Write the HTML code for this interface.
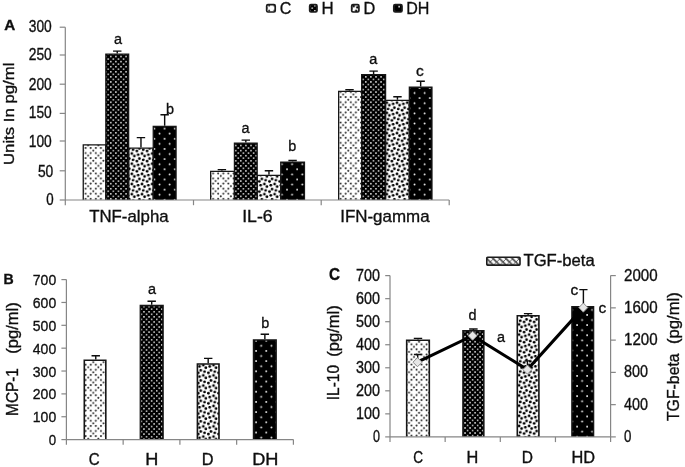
<!DOCTYPE html>
<html lang="en"><head><meta charset="utf-8"><title>Figure</title>
<style>html,body{margin:0;padding:0;background:#fff;}svg{display:block;}</style></head><body>
<svg width="685" height="467" viewBox="0 0 685 467" font-family='"Liberation Sans", Arial, sans-serif'>
<rect width="685" height="467" fill="#fff"/>
<defs>
<filter id="soft" x="0" y="0" width="685" height="467" filterUnits="userSpaceOnUse"><feGaussianBlur stdDeviation="0.4"/></filter>
<pattern id="pCA" patternUnits="userSpaceOnUse" width="10.2" height="10.17" patternTransform="translate(84.60 147.00)"><rect width="10.2" height="10.17" fill="#fff"/><circle cx="1.000" cy="1.000" r="1.02" fill="#2c2c2c"/><circle cx="6.100" cy="1.000" r="1.02" fill="#2c2c2c"/><circle cx="1.000" cy="6.085" r="1.02" fill="#2c2c2c"/><circle cx="6.100" cy="6.085" r="1.02" fill="#2c2c2c"/><circle cx="8.650" cy="3.542" r="1.02" fill="#2c2c2c"/><circle cx="3.550" cy="8.627" r="1.02" fill="#2c2c2c"/></pattern>
<pattern id="pHA" patternUnits="userSpaceOnUse" width="5.1" height="5.085" patternTransform="translate(110.00 55.70)"><rect width="5.1" height="5.085" fill="#000"/><circle cx="0.800" cy="0.800" r="0.82" fill="#ececec"/><circle cx="3.350" cy="3.343" r="0.82" fill="#ececec"/></pattern>
<pattern id="pDA" patternUnits="userSpaceOnUse" width="10.2" height="10.17" patternTransform="translate(131.80 163.70)"><rect width="10.2" height="10.17" fill="#fff"/><circle cx="0.000" cy="0.000" r="1.38" fill="#000"/><circle cx="0.000" cy="10.170" r="1.38" fill="#000"/><circle cx="10.200" cy="0.000" r="1.38" fill="#000"/><circle cx="10.200" cy="10.170" r="1.38" fill="#000"/><circle cx="6.375" cy="1.271" r="1.38" fill="#000"/><circle cx="6.375" cy="11.441" r="1.38" fill="#000"/><circle cx="2.550" cy="2.542" r="1.38" fill="#000"/><circle cx="7.650" cy="5.085" r="1.38" fill="#000"/><circle cx="1.275" cy="6.356" r="1.38" fill="#000"/><circle cx="11.475" cy="6.356" r="1.38" fill="#000"/><circle cx="5.100" cy="7.627" r="1.38" fill="#000"/></pattern>
<pattern id="pDHA" patternUnits="userSpaceOnUse" width="10.2" height="10.17" patternTransform="translate(153.40 127.70)"><rect width="10.2" height="10.17" fill="#000"/><circle cx="1.000" cy="1.000" r="0.92" fill="#fafafa"/><circle cx="6.100" cy="6.085" r="0.92" fill="#fafafa"/></pattern>
<pattern id="pCB" patternUnits="userSpaceOnUse" width="10.2" height="10.2" patternTransform="translate(89.73 363.73)"><rect width="10.2" height="10.2" fill="#fff"/><circle cx="1.000" cy="1.000" r="1.02" fill="#2c2c2c"/><circle cx="6.100" cy="1.000" r="1.02" fill="#2c2c2c"/><circle cx="1.000" cy="6.100" r="1.02" fill="#2c2c2c"/><circle cx="6.100" cy="6.100" r="1.02" fill="#2c2c2c"/><circle cx="8.650" cy="3.550" r="1.02" fill="#2c2c2c"/><circle cx="3.550" cy="8.650" r="1.02" fill="#2c2c2c"/></pattern>
<pattern id="pHB" patternUnits="userSpaceOnUse" width="5.1" height="5.1" patternTransform="translate(143.17 305.83)"><rect width="5.1" height="5.1" fill="#000"/><circle cx="0.800" cy="0.800" r="0.82" fill="#ececec"/><circle cx="3.350" cy="3.350" r="0.82" fill="#ececec"/></pattern>
<pattern id="pDB" patternUnits="userSpaceOnUse" width="10.2" height="10.2" patternTransform="translate(193.11 365.20)"><rect width="10.2" height="10.2" fill="#fff"/><circle cx="0.000" cy="0.000" r="1.38" fill="#000"/><circle cx="0.000" cy="10.200" r="1.38" fill="#000"/><circle cx="10.200" cy="0.000" r="1.38" fill="#000"/><circle cx="10.200" cy="10.200" r="1.38" fill="#000"/><circle cx="6.375" cy="1.275" r="1.38" fill="#000"/><circle cx="6.375" cy="11.475" r="1.38" fill="#000"/><circle cx="2.550" cy="2.550" r="1.38" fill="#000"/><circle cx="7.650" cy="5.100" r="1.38" fill="#000"/><circle cx="1.275" cy="6.375" r="1.38" fill="#000"/><circle cx="11.475" cy="6.375" r="1.38" fill="#000"/><circle cx="5.100" cy="7.650" r="1.38" fill="#000"/></pattern>
<pattern id="pDHB" patternUnits="userSpaceOnUse" width="10.2" height="10.2" patternTransform="translate(255.10 339.80)"><rect width="10.2" height="10.2" fill="#000"/><circle cx="1.000" cy="1.000" r="0.92" fill="#fafafa"/><circle cx="6.100" cy="6.100" r="0.92" fill="#fafafa"/></pattern>
<pattern id="pCC" patternUnits="userSpaceOnUse" width="10.05" height="10.15" patternTransform="translate(410.50 378.84)"><rect width="10.05" height="10.15" fill="#fff"/><circle cx="1.000" cy="1.000" r="1.02" fill="#2c2c2c"/><circle cx="6.025" cy="1.000" r="1.02" fill="#2c2c2c"/><circle cx="1.000" cy="6.075" r="1.02" fill="#2c2c2c"/><circle cx="6.025" cy="6.075" r="1.02" fill="#2c2c2c"/><circle cx="8.538" cy="3.538" r="1.02" fill="#2c2c2c"/><circle cx="3.513" cy="8.613" r="1.02" fill="#2c2c2c"/></pattern>
<pattern id="pHC" patternUnits="userSpaceOnUse" width="5.025" height="5.075" patternTransform="translate(464.25 376.40)"><rect width="5.025" height="5.075" fill="#000"/><circle cx="0.800" cy="0.800" r="0.82" fill="#ececec"/><circle cx="3.312" cy="3.338" r="0.82" fill="#ececec"/></pattern>
<pattern id="pDC" patternUnits="userSpaceOnUse" width="10.05" height="10.15" patternTransform="translate(529.10 405.69)"><rect width="10.05" height="10.15" fill="#fff"/><circle cx="0.000" cy="0.000" r="1.38" fill="#000"/><circle cx="0.000" cy="10.150" r="1.38" fill="#000"/><circle cx="10.050" cy="0.000" r="1.38" fill="#000"/><circle cx="10.050" cy="10.150" r="1.38" fill="#000"/><circle cx="6.281" cy="1.269" r="1.38" fill="#000"/><circle cx="6.281" cy="11.419" r="1.38" fill="#000"/><circle cx="2.513" cy="2.538" r="1.38" fill="#000"/><circle cx="7.538" cy="5.075" r="1.38" fill="#000"/><circle cx="1.256" cy="6.344" r="1.38" fill="#000"/><circle cx="11.306" cy="6.344" r="1.38" fill="#000"/><circle cx="5.025" cy="7.613" r="1.38" fill="#000"/></pattern>
<pattern id="pDHC" patternUnits="userSpaceOnUse" width="10.05" height="10.15" patternTransform="translate(576.09 405.39)"><rect width="10.05" height="10.15" fill="#000"/><circle cx="1.000" cy="1.000" r="0.92" fill="#fafafa"/><circle cx="6.025" cy="6.075" r="0.92" fill="#fafafa"/></pattern>
<pattern id="pT" patternUnits="userSpaceOnUse" width="6.4" height="6.4" patternTransform="translate(488.6 257.2)"><rect width="6.4" height="6.4" fill="#b8b8b8"/><path d="M-1 -1L7.4 7.4" stroke="#fff" stroke-width="1.9"/><path d="M2.2 -1L7.4 4.2M-1 2.2L4.2 7.4" stroke="#333" stroke-width="1.0"/><path d="M-1 7.4L7.4 -1" stroke="#555" stroke-width="0.9"/></pattern>
</defs>
<g filter="url(#soft)">
<g id="panelA">
<text x="28.80" y="31.90" font-size="15.6" textLength="23.00" lengthAdjust="spacingAndGlyphs" fill="#111" stroke="#111" stroke-width="0.35">300</text>
<text x="28.80" y="60.40" font-size="15.6" textLength="23.00" lengthAdjust="spacingAndGlyphs" fill="#111" stroke="#111" stroke-width="0.35">250</text>
<text x="28.80" y="89.70" font-size="15.6" textLength="23.00" lengthAdjust="spacingAndGlyphs" fill="#111" stroke="#111" stroke-width="0.35">200</text>
<text x="28.80" y="118.20" font-size="15.6" textLength="23.00" lengthAdjust="spacingAndGlyphs" fill="#111" stroke="#111" stroke-width="0.35">150</text>
<text x="28.80" y="147.00" font-size="15.6" textLength="23.00" lengthAdjust="spacingAndGlyphs" fill="#111" stroke="#111" stroke-width="0.35">100</text>
<text x="37.90" y="176.70" font-size="15.6" textLength="15.40" lengthAdjust="spacingAndGlyphs" fill="#111" stroke="#111" stroke-width="0.35">50</text>
<text x="46.30" y="205.20" font-size="15.6" textLength="7.40" lengthAdjust="spacingAndGlyphs" fill="#111" stroke="#111" stroke-width="0.35">0</text>
<path d="M113.05 51.10H121.45M117.25 51.10V53.50" stroke="#0a0a0a" stroke-width="1.4" fill="none"/>
<path d="M136.75 137.60H145.15M140.95 137.60V147.50" stroke="#0a0a0a" stroke-width="1.4" fill="none"/>
<path d="M160.45 114.70H168.85M164.65 114.70V125.80" stroke="#0a0a0a" stroke-width="1.4" fill="none"/>
<rect x="83.25" y="144.85" width="22.60" height="55.15" fill="url(#pCA)"/>
<path d="M83.25 200.00V144.85H105.85V200.00" fill="none" stroke="#141414" stroke-width="1.3"/>
<rect x="128.65" y="148.15" width="24.60" height="51.85" fill="url(#pDA)"/>
<path d="M128.65 200.00V148.15H153.25V200.00" fill="none" stroke="#141414" stroke-width="1.3"/>
<rect x="105.85" y="54.15" width="22.80" height="145.85" fill="url(#pHA)"/>
<path d="M105.85 200.00V54.15H128.65V200.00" fill="none" stroke="#141414" stroke-width="1.3"/>
<rect x="153.25" y="126.45" width="22.80" height="73.55" fill="url(#pDHA)"/>
<path d="M153.25 200.00V126.45H176.05V200.00" fill="none" stroke="#141414" stroke-width="1.3"/>
<path d="M217.70 169.60H226.10M221.90 169.60V170.70" stroke="#0a0a0a" stroke-width="1.4" fill="none"/>
<path d="M241.60 140.10H250.00M245.80 140.10V142.60" stroke="#0a0a0a" stroke-width="1.4" fill="none"/>
<path d="M264.75 170.70H273.15M268.95 170.70V174.70" stroke="#0a0a0a" stroke-width="1.4" fill="none"/>
<path d="M288.40 160.50H296.80M292.60 160.50V161.40" stroke="#0a0a0a" stroke-width="1.4" fill="none"/>
<rect x="210.65" y="171.35" width="23.80" height="28.65" fill="url(#pCA)"/>
<path d="M210.65 200.00V171.35H234.45V200.00" fill="none" stroke="#141414" stroke-width="1.3"/>
<rect x="257.15" y="175.35" width="23.60" height="24.65" fill="url(#pDA)"/>
<path d="M257.15 200.00V175.35H280.75V200.00" fill="none" stroke="#141414" stroke-width="1.3"/>
<rect x="234.45" y="143.25" width="22.70" height="56.75" fill="url(#pHA)"/>
<path d="M234.45 200.00V143.25H257.15V200.00" fill="none" stroke="#141414" stroke-width="1.3"/>
<rect x="280.75" y="162.05" width="23.70" height="37.95" fill="url(#pDHA)"/>
<path d="M280.75 200.00V162.05H304.45V200.00" fill="none" stroke="#141414" stroke-width="1.3"/>
<path d="M345.30 89.80H353.70M349.50 89.80V90.70" stroke="#0a0a0a" stroke-width="1.4" fill="none"/>
<path d="M369.40 71.10H377.80M373.60 71.10V74.00" stroke="#0a0a0a" stroke-width="1.4" fill="none"/>
<path d="M393.25 96.80H401.65M397.45 96.80V99.70" stroke="#0a0a0a" stroke-width="1.4" fill="none"/>
<path d="M416.45 81.20H424.85M420.65 81.20V86.60" stroke="#0a0a0a" stroke-width="1.4" fill="none"/>
<rect x="338.65" y="91.35" width="23.00" height="108.65" fill="url(#pCA)"/>
<path d="M338.65 200.00V91.35H361.65V200.00" fill="none" stroke="#141414" stroke-width="1.3"/>
<rect x="385.55" y="100.35" width="23.80" height="99.65" fill="url(#pDA)"/>
<path d="M385.55 200.00V100.35H409.35V200.00" fill="none" stroke="#141414" stroke-width="1.3"/>
<rect x="361.65" y="74.65" width="23.90" height="125.35" fill="url(#pHA)"/>
<path d="M361.65 200.00V74.65H385.55V200.00" fill="none" stroke="#141414" stroke-width="1.3"/>
<rect x="409.35" y="87.25" width="22.60" height="112.75" fill="url(#pDHA)"/>
<path d="M409.35 200.00V87.25H431.95V200.00" fill="none" stroke="#141414" stroke-width="1.3"/>
<path d="M65.3 27.2V205.2M65.3 200.0H449.2" stroke="#868686" stroke-width="1.2" fill="none"/>
<path d="M59.699999999999996 200.00H65.3" stroke="#868686" stroke-width="1.2"/>
<path d="M59.699999999999996 170.80H65.3" stroke="#868686" stroke-width="1.2"/>
<path d="M59.699999999999996 141.00H65.3" stroke="#868686" stroke-width="1.2"/>
<path d="M59.699999999999996 113.40H65.3" stroke="#868686" stroke-width="1.2"/>
<path d="M59.699999999999996 84.20H65.3" stroke="#868686" stroke-width="1.2"/>
<path d="M59.699999999999996 55.00H65.3" stroke="#868686" stroke-width="1.2"/>
<path d="M59.699999999999996 27.20H65.3" stroke="#868686" stroke-width="1.2"/>
<path d="M193.5 200.0V205.2" stroke="#868686" stroke-width="1.2"/>
<path d="M321.2 200.0V205.2" stroke="#868686" stroke-width="1.2"/>
<path d="M449.2 200.0V205.2" stroke="#868686" stroke-width="1.2"/>
<text x="113.99" y="43.90" font-size="15.2" textLength="8.03" lengthAdjust="spacingAndGlyphs" fill="#111" stroke="#111" stroke-width="0.35">a</text>
<text x="165.99" y="113.80" font-size="15.2" textLength="8.03" lengthAdjust="spacingAndGlyphs" fill="#111" stroke="#111" stroke-width="0.35">b</text>
<text x="241.59" y="133.00" font-size="15.2" textLength="8.03" lengthAdjust="spacingAndGlyphs" fill="#111" stroke="#111" stroke-width="0.35">a</text>
<text x="288.19" y="151.40" font-size="15.2" textLength="8.03" lengthAdjust="spacingAndGlyphs" fill="#111" stroke="#111" stroke-width="0.35">b</text>
<text x="369.19" y="63.50" font-size="15.2" textLength="8.03" lengthAdjust="spacingAndGlyphs" fill="#111" stroke="#111" stroke-width="0.35">a</text>
<text x="416.12" y="75.50" font-size="15.2" textLength="7.75" lengthAdjust="spacingAndGlyphs" fill="#111" stroke="#111" stroke-width="0.35">c</text>
<text x="89.20" y="222.20" font-size="16.6" textLength="79.40" lengthAdjust="spacingAndGlyphs" fill="#111" stroke="#111" stroke-width="0.35">TNF-alpha</text>
<text x="242.20" y="222.20" font-size="16.6" textLength="30.40" lengthAdjust="spacingAndGlyphs" fill="#111" stroke="#111" stroke-width="0.35">IL-6</text>
<text x="340.20" y="222.20" font-size="16.6" textLength="89.40" lengthAdjust="spacingAndGlyphs" fill="#111" stroke="#111" stroke-width="0.35">IFN-gamma</text>
<text x="13.70" y="165.00" font-size="14.9" textLength="102.40" lengthAdjust="spacingAndGlyphs" transform="rotate(-90 13.70 165.00)" fill="#111" stroke="#111" stroke-width="0.35">Units In pg/ml</text>
<text x="4.20" y="29.70" font-size="15" textLength="11.00" lengthAdjust="spacingAndGlyphs" font-weight="bold" fill="#111" stroke="#111" stroke-width="0.35">A</text>
<rect x="266.7" y="4.7" width="8.50" height="7.30" rx="1.3" fill="url(#pCA)" stroke="#1c1c1c" stroke-width="1.7"/>
<rect x="309.7" y="4.7" width="7.30" height="7.30" rx="1.3" fill="url(#pHA)" stroke="#1c1c1c" stroke-width="1.7"/>
<rect x="351.7" y="4.7" width="7.20" height="7.30" rx="1.3" fill="url(#pDA)" stroke="#1c1c1c" stroke-width="1.7"/>
<rect x="393.8" y="4.7" width="8.20" height="7.30" rx="1.3" fill="url(#pDHA)" stroke="#1c1c1c" stroke-width="1.7"/>
<text x="279.80" y="13.80" font-size="16.8" textLength="11.60" lengthAdjust="spacingAndGlyphs" fill="#111" stroke="#111" stroke-width="0.35">C</text>
<text x="321.50" y="13.80" font-size="16.8" textLength="12.20" lengthAdjust="spacingAndGlyphs" fill="#111" stroke="#111" stroke-width="0.35">H</text>
<text x="363.40" y="13.80" font-size="16.8" textLength="11.80" lengthAdjust="spacingAndGlyphs" fill="#111" stroke="#111" stroke-width="0.35">D</text>
<text x="406.20" y="13.80" font-size="16.8" textLength="23.20" lengthAdjust="spacingAndGlyphs" fill="#111" stroke="#111" stroke-width="0.35">DH</text>
</g>
<g id="panelB">
<path d="M91.55 355.80H99.95M95.75 355.80V359.40" stroke="#0a0a0a" stroke-width="1.4" fill="none"/>
<rect x="84.30" y="360.20" width="21.50" height="79.40" fill="url(#pCB)"/>
<path d="M84.30 439.60V360.20H105.80V439.60" fill="none" stroke="#141414" stroke-width="1.6"/>
<path d="M147.50 301.20H155.90M151.70 301.20V304.80" stroke="#0a0a0a" stroke-width="1.4" fill="none"/>
<rect x="140.40" y="305.60" width="22.60" height="134.00" fill="url(#pHB)"/>
<path d="M140.40 439.60V305.60H163.00V439.60" fill="none" stroke="#141414" stroke-width="1.6"/>
<path d="M204.00 358.40H212.40M208.20 358.40V363.20" stroke="#0a0a0a" stroke-width="1.4" fill="none"/>
<rect x="197.40" y="364.00" width="21.60" height="75.60" fill="url(#pDB)"/>
<path d="M197.40 439.60V364.00H219.00V439.60" fill="none" stroke="#141414" stroke-width="1.6"/>
<path d="M260.65 334.30H269.05M264.85 334.30V339.20" stroke="#0a0a0a" stroke-width="1.4" fill="none"/>
<rect x="253.60" y="340.00" width="22.50" height="99.60" fill="url(#pDHB)"/>
<path d="M253.60 439.60V340.00H276.10V439.60" fill="none" stroke="#141414" stroke-width="1.6"/>
<path d="M66.4 279.6V444.8M66.4 439.6H293.4" stroke="#868686" stroke-width="1.2" fill="none"/>
<path d="M61.400000000000006 439.60H66.4" stroke="#868686" stroke-width="1.2"/>
<text x="48.80" y="445.10" font-size="15.4" textLength="7.40" lengthAdjust="spacingAndGlyphs" fill="#111" stroke="#111" stroke-width="0.35">0</text>
<path d="M61.400000000000006 416.74H66.4" stroke="#868686" stroke-width="1.2"/>
<text x="32.80" y="422.24" font-size="15.4" textLength="23.40" lengthAdjust="spacingAndGlyphs" fill="#111" stroke="#111" stroke-width="0.35">100</text>
<path d="M61.400000000000006 393.89H66.4" stroke="#868686" stroke-width="1.2"/>
<text x="32.80" y="399.39" font-size="15.4" textLength="23.40" lengthAdjust="spacingAndGlyphs" fill="#111" stroke="#111" stroke-width="0.35">200</text>
<path d="M61.400000000000006 371.03H66.4" stroke="#868686" stroke-width="1.2"/>
<text x="32.80" y="376.53" font-size="15.4" textLength="23.40" lengthAdjust="spacingAndGlyphs" fill="#111" stroke="#111" stroke-width="0.35">300</text>
<path d="M61.400000000000006 348.17H66.4" stroke="#868686" stroke-width="1.2"/>
<text x="32.80" y="353.67" font-size="15.4" textLength="23.40" lengthAdjust="spacingAndGlyphs" fill="#111" stroke="#111" stroke-width="0.35">400</text>
<path d="M61.400000000000006 325.32H66.4" stroke="#868686" stroke-width="1.2"/>
<text x="32.80" y="330.82" font-size="15.4" textLength="23.40" lengthAdjust="spacingAndGlyphs" fill="#111" stroke="#111" stroke-width="0.35">500</text>
<path d="M61.400000000000006 302.46H66.4" stroke="#868686" stroke-width="1.2"/>
<text x="32.80" y="307.96" font-size="15.4" textLength="23.40" lengthAdjust="spacingAndGlyphs" fill="#111" stroke="#111" stroke-width="0.35">600</text>
<path d="M61.400000000000006 279.60H66.4" stroke="#868686" stroke-width="1.2"/>
<text x="32.80" y="285.10" font-size="15.4" textLength="23.40" lengthAdjust="spacingAndGlyphs" fill="#111" stroke="#111" stroke-width="0.35">700</text>
<path d="M123.15 439.6V444.8" stroke="#868686" stroke-width="1.2"/>
<path d="M179.90 439.6V444.8" stroke="#868686" stroke-width="1.2"/>
<path d="M236.65 439.6V444.8" stroke="#868686" stroke-width="1.2"/>
<path d="M293.40 439.6V444.8" stroke="#868686" stroke-width="1.2"/>
<text x="147.89" y="293.70" font-size="15.2" textLength="8.03" lengthAdjust="spacingAndGlyphs" fill="#111" stroke="#111" stroke-width="0.35">a</text>
<text x="261.29" y="327.90" font-size="15.2" textLength="8.03" lengthAdjust="spacingAndGlyphs" fill="#111" stroke="#111" stroke-width="0.35">b</text>
<text x="88.70" y="465.30" font-size="16.4" textLength="10.90" lengthAdjust="spacingAndGlyphs" fill="#111" stroke="#111" stroke-width="0.35">C</text>
<text x="145.20" y="465.30" font-size="16.4" textLength="13.10" lengthAdjust="spacingAndGlyphs" fill="#111" stroke="#111" stroke-width="0.35">H</text>
<text x="201.80" y="465.30" font-size="16.4" textLength="11.80" lengthAdjust="spacingAndGlyphs" fill="#111" stroke="#111" stroke-width="0.35">D</text>
<text x="252.20" y="465.30" font-size="16.4" textLength="26.30" lengthAdjust="spacingAndGlyphs" fill="#111" stroke="#111" stroke-width="0.35">DH</text>
<text x="18.20" y="415.90" font-size="16.6" textLength="47.80" lengthAdjust="spacingAndGlyphs" transform="rotate(-90 18.20 415.90)" fill="#111" stroke="#111" stroke-width="0.35">MCP-1</text>
<text x="18.20" y="353.70" font-size="16.6" textLength="51.50" lengthAdjust="spacingAndGlyphs" transform="rotate(-90 18.20 353.70)" fill="#111" stroke="#111" stroke-width="0.35">(pg/ml)</text>
<text x="3.40" y="284.30" font-size="14.6" textLength="10.20" lengthAdjust="spacingAndGlyphs" font-weight="bold" fill="#111" stroke="#111" stroke-width="0.35">B</text>
</g>
<g id="panelC">
<path d="M413.80 338.40H422.20M418.00 338.40V339.40" stroke="#0a0a0a" stroke-width="1.4" fill="none"/>
<rect x="406.70" y="340.20" width="22.60" height="96.70" fill="url(#pCC)"/>
<path d="M406.70 436.90V340.20H429.30V436.90" fill="none" stroke="#141414" stroke-width="1.6"/>
<path d="M469.20 329.00H477.60M473.40 329.00V330.10" stroke="#0a0a0a" stroke-width="1.4" fill="none"/>
<rect x="463.00" y="330.90" width="20.80" height="106.00" fill="url(#pHC)"/>
<path d="M463.00 436.90V330.90H483.80V436.90" fill="none" stroke="#141414" stroke-width="1.6"/>
<path d="M523.90 313.60H532.30M528.10 313.60V315.00" stroke="#0a0a0a" stroke-width="1.4" fill="none"/>
<rect x="517.30" y="315.80" width="21.60" height="121.10" fill="url(#pDC)"/>
<path d="M517.30 436.90V315.80H538.90V436.90" fill="none" stroke="#141414" stroke-width="1.6"/>
<rect x="572.00" y="306.90" width="21.50" height="130.00" fill="url(#pDHC)"/>
<path d="M572.00 436.90V306.90H593.50V436.90" fill="none" stroke="#141414" stroke-width="1.6"/>
<path d="M390.0 275.6V442.09999999999997M390.0 436.9H610.6M610.6 275.6V442.09999999999997" stroke="#868686" stroke-width="1.2" fill="none"/>
<path d="M385.2 436.90H390.0" stroke="#868686" stroke-width="1.2"/>
<text x="373.00" y="441.90" font-size="15.8" textLength="7.00" lengthAdjust="spacingAndGlyphs" fill="#111" stroke="#111" stroke-width="0.35">0</text>
<path d="M385.2 413.86H390.0" stroke="#868686" stroke-width="1.2"/>
<text x="356.00" y="418.86" font-size="15.8" textLength="24.00" lengthAdjust="spacingAndGlyphs" fill="#111" stroke="#111" stroke-width="0.35">100</text>
<path d="M385.2 390.82H390.0" stroke="#868686" stroke-width="1.2"/>
<text x="356.00" y="395.82" font-size="15.8" textLength="24.00" lengthAdjust="spacingAndGlyphs" fill="#111" stroke="#111" stroke-width="0.35">200</text>
<path d="M385.2 367.78H390.0" stroke="#868686" stroke-width="1.2"/>
<text x="356.00" y="372.78" font-size="15.8" textLength="24.00" lengthAdjust="spacingAndGlyphs" fill="#111" stroke="#111" stroke-width="0.35">300</text>
<path d="M385.2 344.74H390.0" stroke="#868686" stroke-width="1.2"/>
<text x="356.00" y="349.74" font-size="15.8" textLength="24.00" lengthAdjust="spacingAndGlyphs" fill="#111" stroke="#111" stroke-width="0.35">400</text>
<path d="M385.2 321.70H390.0" stroke="#868686" stroke-width="1.2"/>
<text x="356.00" y="326.70" font-size="15.8" textLength="24.00" lengthAdjust="spacingAndGlyphs" fill="#111" stroke="#111" stroke-width="0.35">500</text>
<path d="M385.2 298.66H390.0" stroke="#868686" stroke-width="1.2"/>
<text x="356.00" y="303.66" font-size="15.8" textLength="24.00" lengthAdjust="spacingAndGlyphs" fill="#111" stroke="#111" stroke-width="0.35">600</text>
<path d="M385.2 275.62H390.0" stroke="#868686" stroke-width="1.2"/>
<text x="356.00" y="280.62" font-size="15.8" textLength="24.00" lengthAdjust="spacingAndGlyphs" fill="#111" stroke="#111" stroke-width="0.35">700</text>
<path d="M610.6 436.90H615.8000000000001" stroke="#868686" stroke-width="1.2"/>
<text x="624.00" y="441.90" font-size="15.8" textLength="7.40" lengthAdjust="spacingAndGlyphs" fill="#111" stroke="#111" stroke-width="0.35">0</text>
<path d="M610.6 404.64H615.8000000000001" stroke="#868686" stroke-width="1.2"/>
<text x="624.00" y="409.64" font-size="15.8" textLength="24.00" lengthAdjust="spacingAndGlyphs" fill="#111" stroke="#111" stroke-width="0.35">400</text>
<path d="M610.6 372.38H615.8000000000001" stroke="#868686" stroke-width="1.2"/>
<text x="624.00" y="377.38" font-size="15.8" textLength="24.00" lengthAdjust="spacingAndGlyphs" fill="#111" stroke="#111" stroke-width="0.35">800</text>
<path d="M610.6 340.12H615.8000000000001" stroke="#868686" stroke-width="1.2"/>
<text x="624.00" y="345.12" font-size="15.8" textLength="33.60" lengthAdjust="spacingAndGlyphs" fill="#111" stroke="#111" stroke-width="0.35">1200</text>
<path d="M610.6 307.86H615.8000000000001" stroke="#868686" stroke-width="1.2"/>
<text x="624.00" y="312.86" font-size="15.8" textLength="33.60" lengthAdjust="spacingAndGlyphs" fill="#111" stroke="#111" stroke-width="0.35">1600</text>
<path d="M610.6 275.60H615.8000000000001" stroke="#868686" stroke-width="1.2"/>
<text x="624.00" y="280.60" font-size="15.8" textLength="33.60" lengthAdjust="spacingAndGlyphs" fill="#111" stroke="#111" stroke-width="0.35">2000</text>
<path d="M445.15 436.9V442.09999999999997" stroke="#868686" stroke-width="1.2"/>
<path d="M500.30 436.9V442.09999999999997" stroke="#868686" stroke-width="1.2"/>
<path d="M555.45 436.9V442.09999999999997" stroke="#868686" stroke-width="1.2"/>
<polyline points="417.5,362.2 472.6,335.7 527.4,369.6 583.3,307.6" fill="none" stroke="#000" stroke-width="3.1" stroke-linejoin="miter"/>
<path d="M413.90 354.50H421.50M417.70 354.50V362.20" stroke="#0a0a0a" stroke-width="1.4" fill="none"/>
<path d="M524.60 360.90H530.20M527.40 360.90V369.60" stroke="#0a0a0a" stroke-width="1.4" fill="none"/>
<path d="M579.30 289.60H587.50M583.40 289.60V307.60" stroke="#0a0a0a" stroke-width="1.4" fill="none"/>
<path d="M412.95 362.2L417.5 357.65L422.05 362.2L417.5 366.75Z" fill="#e6e6e6" stroke="#8a8a8a" stroke-width="1"/>
<path d="M468.05 335.7L472.6 331.15L477.15000000000003 335.7L472.6 340.25Z" fill="#e6e6e6" stroke="#8a8a8a" stroke-width="1"/>
<path d="M522.85 369.6L527.4 365.05L531.9499999999999 369.6L527.4 374.15000000000003Z" fill="#e6e6e6" stroke="#8a8a8a" stroke-width="1"/>
<path d="M578.75 307.6L583.3 303.05L587.8499999999999 307.6L583.3 312.15000000000003Z" fill="#e6e6e6" stroke="#8a8a8a" stroke-width="1"/>
<text x="468.59" y="320.00" font-size="15.2" textLength="8.03" lengthAdjust="spacingAndGlyphs" fill="#111" stroke="#111" stroke-width="0.35">d</text>
<text x="496.99" y="341.80" font-size="15.2" textLength="8.03" lengthAdjust="spacingAndGlyphs" fill="#111" stroke="#111" stroke-width="0.35">a</text>
<text x="570.62" y="295.30" font-size="15.2" textLength="7.75" lengthAdjust="spacingAndGlyphs" fill="#111" stroke="#111" stroke-width="0.35">c</text>
<text x="598.52" y="313.00" font-size="15.2" textLength="7.75" lengthAdjust="spacingAndGlyphs" fill="#111" stroke="#111" stroke-width="0.35">c</text>
<text x="413.30" y="462.60" font-size="16.0" textLength="9.80" lengthAdjust="spacingAndGlyphs" fill="#111" stroke="#111" stroke-width="0.35">C</text>
<text x="466.40" y="462.60" font-size="16.0" textLength="11.80" lengthAdjust="spacingAndGlyphs" fill="#111" stroke="#111" stroke-width="0.35">H</text>
<text x="521.80" y="462.60" font-size="16.0" textLength="11.20" lengthAdjust="spacingAndGlyphs" fill="#111" stroke="#111" stroke-width="0.35">D</text>
<text x="571.40" y="462.60" font-size="16.0" textLength="23.60" lengthAdjust="spacingAndGlyphs" fill="#111" stroke="#111" stroke-width="0.35">HD</text>
<text x="339.50" y="400.20" font-size="16.6" textLength="35.20" lengthAdjust="spacingAndGlyphs" transform="rotate(-90 339.50 400.20)" fill="#111" stroke="#111" stroke-width="0.35">IL-10</text>
<text x="339.50" y="356.70" font-size="16.6" textLength="51.50" lengthAdjust="spacingAndGlyphs" transform="rotate(-90 339.50 356.70)" fill="#111" stroke="#111" stroke-width="0.35">(pg/ml)</text>
<text x="679.40" y="421.10" font-size="16.8" textLength="67.80" lengthAdjust="spacingAndGlyphs" transform="rotate(-90 679.40 421.10)" fill="#111" stroke="#111" stroke-width="0.35">TGF-beta</text>
<text x="679.40" y="344.10" font-size="16.8" textLength="51.90" lengthAdjust="spacingAndGlyphs" transform="rotate(-90 679.40 344.10)" fill="#111" stroke="#111" stroke-width="0.35">(pg/ml)</text>
<text x="328.90" y="280.20" font-size="16.0" textLength="11.00" lengthAdjust="spacingAndGlyphs" font-weight="bold" fill="#111" stroke="#111" stroke-width="0.35">C</text>
<rect x="486.8" y="257.2" width="33.2" height="7.9" rx="0.8" fill="url(#pT)" stroke="#1a1a1a" stroke-width="1.6"/>
<text x="523.50" y="266.00" font-size="16.5" textLength="71.20" lengthAdjust="spacingAndGlyphs" fill="#111" stroke="#111" stroke-width="0.35">TGF-beta</text>
</g>
</g>
</svg></body></html>
